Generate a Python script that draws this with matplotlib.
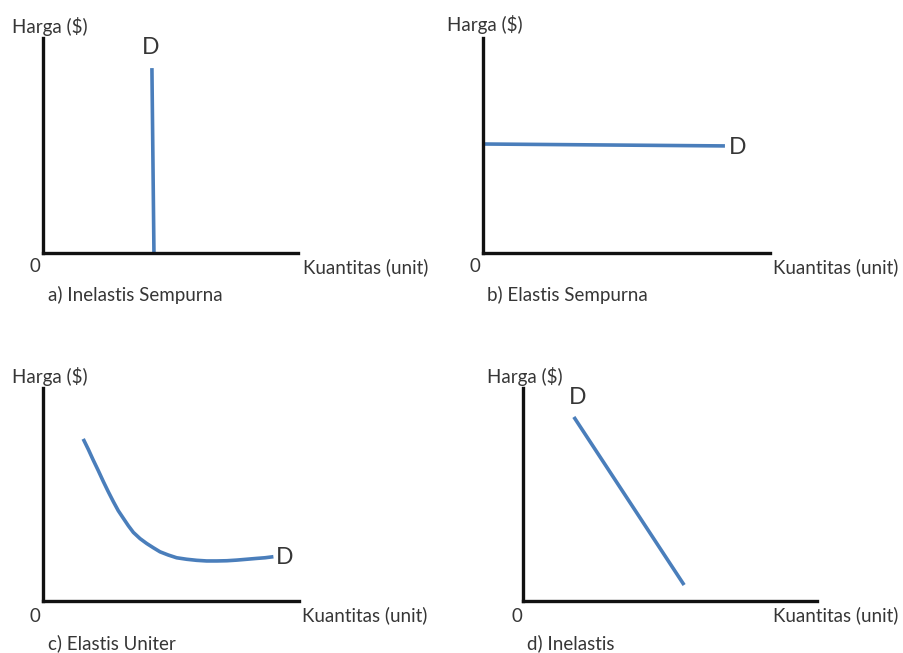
import matplotlib
matplotlib.use("Agg")
import matplotlib.pyplot as plt

plt.rcParams["font.family"] = ["Lato", "DejaVu Sans"]

# data (axes are 0..10 on both sides)
a_q = [4.26, 4.34]
a_p = [8.6, 0.0]

b_q = [0.0, 8.43]
b_p = [5.07, 4.98]

c_q = [1.57, 1.77, 1.96, 2.16, 2.36, 2.55, 2.75, 2.94, 3.14, 3.33, 3.53, 3.79, 4.05, 4.31,
       4.57, 4.89, 5.22, 5.61, 6.00, 6.39, 6.79, 7.18, 7.57, 7.96, 8.35, 8.67, 9.00]
c_p = [7.61, 7.12, 6.62, 6.12, 5.60, 5.13, 4.66, 4.24, 3.88, 3.54, 3.22, 2.93, 2.70, 2.50,
       2.31, 2.16, 2.03, 1.96, 1.91, 1.88, 1.88, 1.89, 1.92, 1.96, 2.00, 2.03, 2.08]

d_q = [1.73, 5.48]
d_p = [8.64, 0.75]

captions = ["a) Inelastis Sempurna", "b) Elastis Sempurna", "c) Elastis Uniter", "d) Inelastis"]
y_label = "Harga ($)"
x_label = "Kuantitas (unit)"
curve_label = "D"

W, H = 904, 653
fig = plt.figure(figsize=(W / 100, H / 100), dpi=100)
txt_col = "#363636"
blue = "#4a7ebb"


def px(x, y):
    return x / W, 1 - y / H


def make_ax(left, top, right, bottom):
    ax = fig.add_axes([left / W, 1 - bottom / H, (right - left) / W, (bottom - top) / H])
    ax.set_xlim(0, 10)
    ax.set_ylim(0, 10)
    for s in ["top", "right"]:
        ax.spines[s].set_visible(False)
    for s in ["left", "bottom"]:
        ax.spines[s].set_linewidth(2.4)
        ax.spines[s].set_color("#111111")
    ax.set_xticks([])
    ax.set_yticks([])
    ax.patch.set_alpha(0)
    return ax


panels = [
    # axes box (px), series, D label pos, Harga pos, 0 pos, Kuantitas pos, caption pos
    dict(box=(43.5, 38, 298, 253), q=a_q, p=a_p, d=(151, 47), h=(12, 26), z=(35, 267), k=(303, 267), c=(48, 295)),
    dict(box=(483, 38, 770, 253), q=b_q, p=b_p, d=(738, 148), h=(447, 25), z=(475, 267), k=(773, 267), c=(487, 295)),
    dict(box=(43, 388, 299, 601), q=c_q, p=c_p, d=(285, 557), h=(12, 377), z=(35, 617), k=(302, 615), c=(48, 643)),
    dict(box=(523, 388, 817, 601), q=d_q, p=d_p, d=(578, 397), h=(487, 377), z=(517, 617), k=(773, 615), c=(527, 643)),
]

for i, pn in enumerate(panels):
    ax = make_ax(*pn["box"])
    ax.plot(pn["q"], pn["p"], color=blue, lw=2.6, solid_capstyle="butt",
            solid_joinstyle="round", clip_on=False)
    fig.text(*px(*pn["d"]), curve_label, fontsize=16.5, color=txt_col, ha="center", va="center")
    fig.text(*px(*pn["h"]), y_label, fontsize=13.5, color=txt_col, ha="left", va="center")
    fig.text(*px(*pn["z"]), "0", fontsize=13.5, color=txt_col, ha="center", va="center")
    fig.text(*px(*pn["k"]), x_label, fontsize=13.5, color=txt_col, ha="left", va="center")
    fig.text(*px(*pn["c"]), captions[i], fontsize=13.5, color=txt_col, ha="left", va="center")

fig.savefig("out.png", dpi=100, facecolor="white")
